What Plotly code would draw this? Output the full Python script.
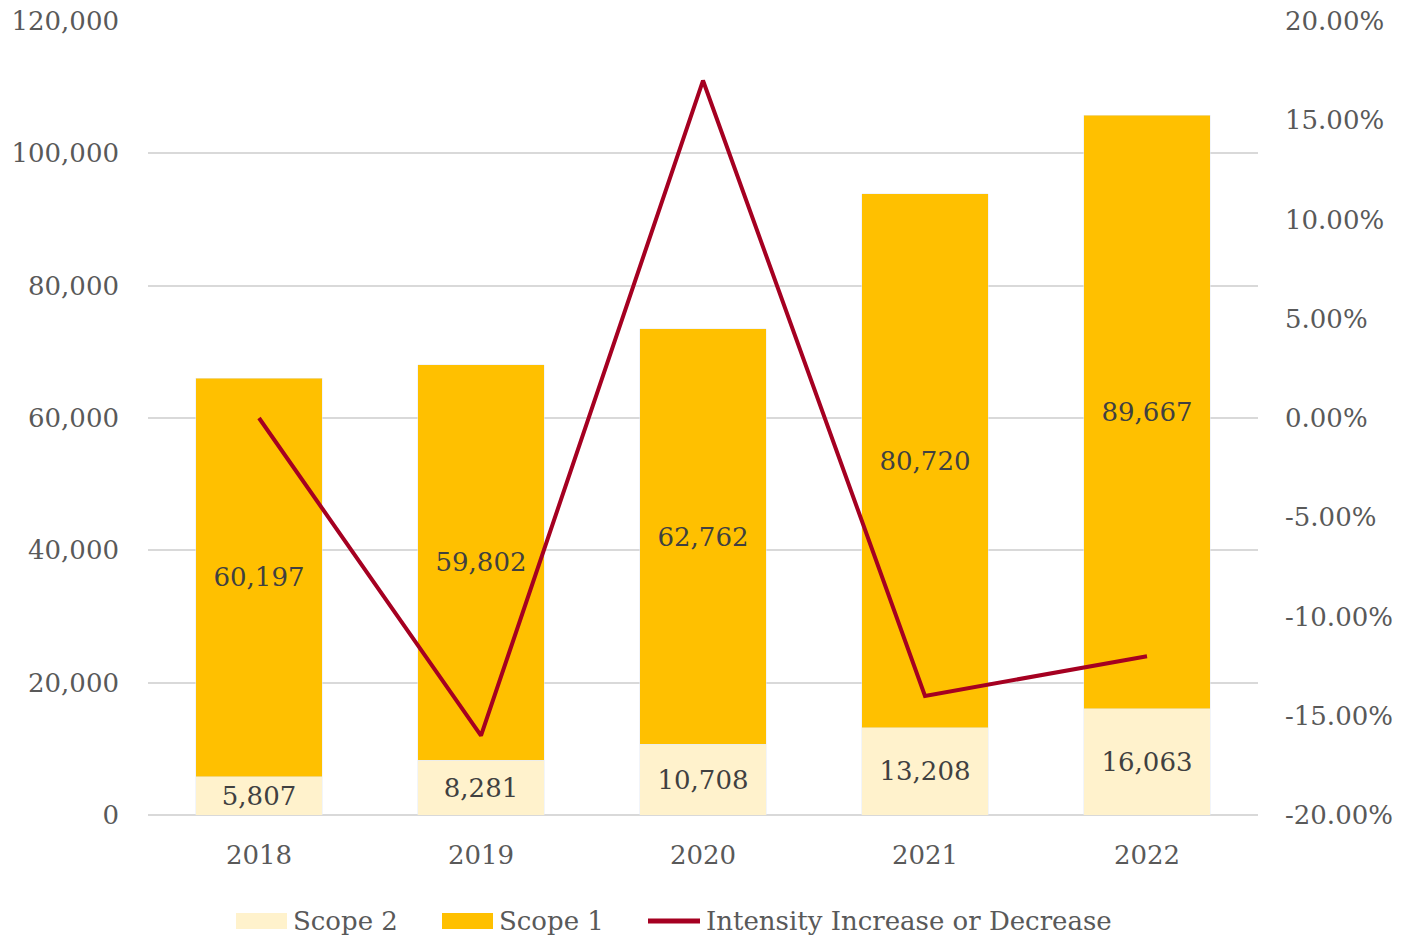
import plotly.graph_objects as go

years = ["2018", "2019", "2020", "2021", "2022"]
scope2 = [5807, 8281, 10708, 13208, 16063]
scope1 = [60197, 59802, 62762, 80720, 89667]
intensity = [0.0, -0.16, 0.17, -0.14, -0.12]

left_ticks = [0, 20000, 40000, 60000, 80000, 100000, 120000]
right_ticks = [-0.20, -0.15, -0.10, -0.05, 0.0, 0.05, 0.10, 0.15, 0.20]
right_labels = [f"{v * 100:.2f}%" for v in right_ticks]

FONT = "DejaVu Serif"
GRAY = "#595959"
SIZE = 26
C_S2 = "#FFF2CC"
C_S1 = "#FFC000"
C_LINE = "#A50021"

FIG_W, FIG_H = 1404, 951

fig = go.Figure()
fig.add_trace(go.Bar(
    x=years, y=scope2, name="Scope 2", marker_color=C_S2,
    text=[f"{v:,}" for v in scope2], textposition="inside",
    insidetextanchor="middle", textangle=0,
    textfont=dict(family=FONT, size=SIZE, color="#404040"),
))
fig.add_trace(go.Bar(
    x=years, y=scope1, name="Scope 1", marker_color=C_S1,
    text=[f"{v:,}" for v in scope1], textposition="inside",
    insidetextanchor="middle", textangle=0,
    textfont=dict(family=FONT, size=SIZE, color="#404040"),
))
fig.add_trace(go.Scatter(
    x=years, y=intensity, name="Intensity Increase or Decrease",
    mode="lines", line=dict(color=C_LINE, width=4), yaxis="y2",
))

# plot area in page pixels: left 148, right 1258, top 21, bottom 815
L, R, T, B = 148, 1258, 21, 815
W, H = R - L, B - T


def px(x):
    return (x - L) / W


def py(y):
    return (B - y) / H


shapes = []
annotations = []
legend_items = [
    ("rect", C_S2, 236, 287, "Scope 2", 291),
    ("rect", C_S1, 442, 493, "Scope 1", 497),
    ("line", C_LINE, 648, 700, "Intensity Increase or Decrease", 704),
]
ly = 921
for kind, col, x0, x1, label, tx in legend_items:
    if kind == "rect":
        shapes.append(dict(type="rect", xref="paper", yref="paper",
                           x0=px(x0), x1=px(x1), y0=py(ly + 8), y1=py(ly - 8),
                           fillcolor=col, line=dict(width=0)))
    else:
        shapes.append(dict(type="line", xref="paper", yref="paper",
                           x0=px(x0), x1=px(x1), y0=py(ly), y1=py(ly),
                           line=dict(color=col, width=5)))
    annotations.append(dict(xref="paper", yref="paper", x=px(tx), y=py(ly),
                            text=label, showarrow=False, xanchor="left",
                            yanchor="middle",
                            font=dict(family=FONT, size=SIZE, color=GRAY)))

fig.update_layout(
    width=FIG_W, height=FIG_H,
    barmode="stack", bargap=0.43,
    paper_bgcolor="white", plot_bgcolor="white",
    margin=dict(l=L, r=FIG_W - R, t=T, b=FIG_H - B, autoexpand=False),
    font=dict(family=FONT, size=SIZE, color=GRAY),
    uniformtext=dict(minsize=10, mode="show"),
    showlegend=False,
    shapes=shapes,
    annotations=annotations,
    xaxis=dict(showgrid=False, showline=False, ticks="", automargin=False,
               ticklabelstandoff=22,
               tickfont=dict(family=FONT, size=SIZE, color=GRAY)),
    yaxis=dict(range=[0, 120000], tickvals=left_ticks, tickformat=",",
               showgrid=True, gridcolor="#D9D9D9", gridwidth=1.5,
               zeroline=True, zerolinecolor="#D9D9D9", zerolinewidth=1.5,
               ticks="", ticklabelstandoff=28, automargin=False,
               ticklabeloverflow="allow",
               tickfont=dict(family=FONT, size=SIZE, color=GRAY)),
    yaxis2=dict(range=[-0.2, 0.2], tickvals=right_ticks, ticktext=right_labels,
                overlaying="y", side="right", showgrid=False, zeroline=False,
                ticks="", ticklabelstandoff=26, automargin=False,
                ticklabeloverflow="allow",
                tickfont=dict(family=FONT, size=SIZE, color=GRAY)),
)

fig.write_html(
    "out.html",
    config={"displayModeBar": False},
    post_script="document.body.style.margin='0';document.body.style.overflow='hidden';",
)
